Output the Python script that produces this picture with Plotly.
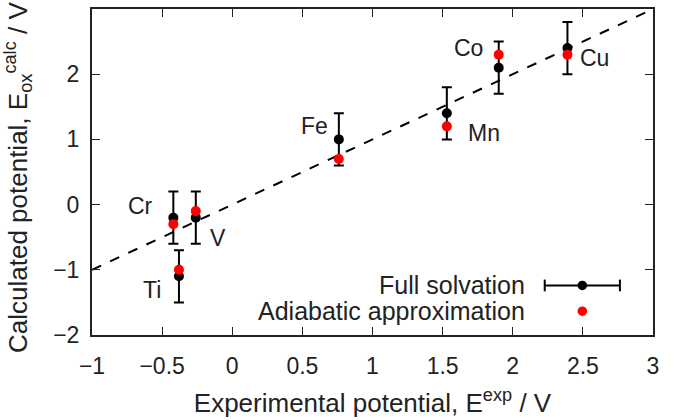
import plotly.graph_objects as go

metals = ["Ti", "V", "Cr", "Fe", "Mn", "Co", "Cu"]
e_exp = [-0.38, -0.26, -0.42, 0.76, 1.53, 1.90, 2.39]
e_full = [-1.1, -0.2, -0.2, 1.0, 1.4, 2.1, 2.4]
e_err = [0.4, 0.4, 0.4, 0.4, 0.4, 0.4, 0.4]
e_adiab = [-1.0, -0.1, -0.3, 0.7, 1.2, 2.3, 2.3]
diag_x = [-1, 3]
diag_y = [-1, 3]

# label placement (anchor side, pixel offsets)
label_pos = {
    "Ti": ("right", -16, -14),
    "V": ("left", 12, -20),
    "Cr": ("right", -18, 12),
    "Fe": ("right", -9, 13),
    "Mn": ("left", 19, -20),
    "Co": ("right", -14, 20),
    "Cu": ("left", 11, -10),
}

FONT = "Liberation Sans, Arial, sans-serif"
TXT = "#222222"
fig = go.Figure()
fig.add_trace(go.Scatter(x=diag_x, y=diag_y, mode="lines",
                         line=dict(color="black", width=2, dash="10px,10px"),
                         showlegend=False, hoverinfo="skip"))
fig.add_trace(go.Scatter(x=e_exp, y=e_full, mode="markers",
                         marker=dict(color="black", size=10),
                         error_y=dict(type="data", array=e_err, color="black",
                                      thickness=2, width=5),
                         showlegend=False))
fig.add_trace(go.Scatter(x=e_exp, y=e_adiab, mode="markers",
                         marker=dict(color="#ff0000", size=10),
                         showlegend=False))

for m, x, y in zip(metals, e_exp, e_full):
    side, dx, dy = label_pos[m]
    fig.add_annotation(x=x, y=y, text=m, showarrow=False, xanchor=side,
                       yanchor="middle", xshift=dx, yshift=dy,
                       font=dict(size=23, color=TXT, family=FONT))

# custom legend
ly1, ly2 = 0.152, 0.073
lx = 0.874
fig.add_annotation(xref="paper", yref="paper", x=0.776, y=ly1, text="Full solvation",
                   showarrow=False, xanchor="right", yanchor="middle",
                   font=dict(size=25, color=TXT, family=FONT))
fig.add_annotation(xref="paper", yref="paper", x=0.776, y=ly2, text="Adiabatic approximation",
                   showarrow=False, xanchor="right", yanchor="middle",
                   font=dict(size=25, color=TXT, family=FONT))
fig.add_shape(type="line", xref="paper", yref="paper", x0=0.807, x1=0.941, y0=ly1, y1=ly1,
              line=dict(color="black", width=2))
for xx in (0.807, 0.941):
    fig.add_shape(type="line", xref="paper", yref="paper", x0=xx, x1=xx,
                  y0=ly1 - 0.018, y1=ly1 + 0.018, line=dict(color="black", width=2))
fig.add_shape(type="circle", xref="paper", yref="paper", x0=lx - 0.0085, x1=lx + 0.0085,
              y0=ly1 - 0.0145, y1=ly1 + 0.0145, fillcolor="black", line=dict(width=0))
fig.add_shape(type="circle", xref="paper", yref="paper", x0=lx - 0.0085, x1=lx + 0.0085,
              y0=ly2 - 0.0145, y1=ly2 + 0.0145, fillcolor="#ff0000", line=dict(width=0))

# y-axis title (as rotated annotation so it can run past the top edge)
fig.add_annotation(xref="paper", yref="paper", x=-0.132, y=-0.06, textangle=-90,
                   text="Calculated potential, E<sub>ox</sub><sup>calc</sup> / V",
                   showarrow=False, xanchor="center", yanchor="bottom",
                   font=dict(size=26, color=TXT, family=FONT))

axis_common = dict(showgrid=False, zeroline=False, showline=True, linecolor="#222222",
                   linewidth=2, mirror="ticks", ticks="inside", ticklen=8,
                   tickwidth=1, tickcolor="#222222",
                   tickfont=dict(size=23, color=TXT, family=FONT))
fig.update_xaxes(range=[-1, 3], dtick=0.5, tick0=-1, ticklabelstandoff=9,
                 title=dict(text="Experimental potential, E<sup>exp</sup> / V",
                            font=dict(size=26, color=TXT, family=FONT), standoff=16),
                 **axis_common)
fig.update_yaxes(range=[-2, 3], dtick=1, tick0=-2, ticklabelstandoff=6, **axis_common)
fig.update_layout(width=676, height=420, plot_bgcolor="white", paper_bgcolor="white",
                  margin=dict(l=92, r=23, t=7, b=85), showlegend=False)
fig.write_html("out.html")
